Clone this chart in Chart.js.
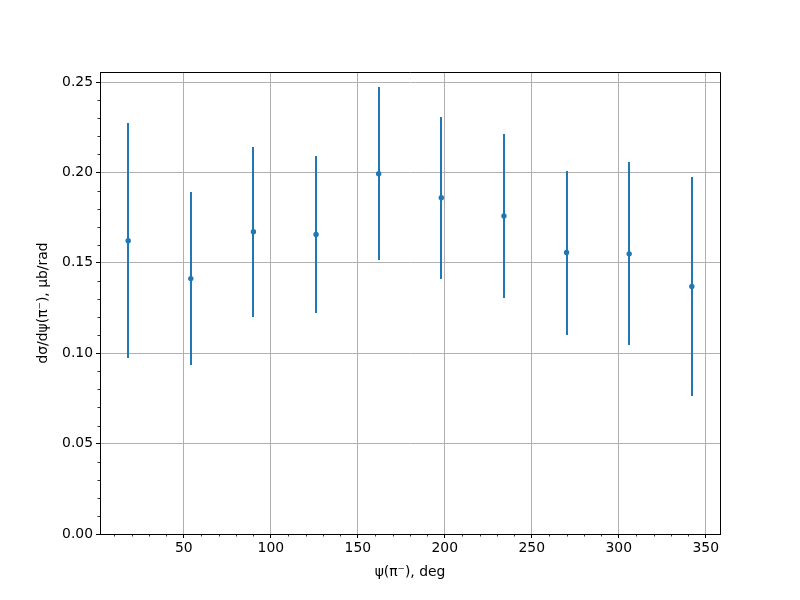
<!DOCTYPE html>
<html>
<head>
<meta charset="utf-8">
<script src="https://cdn.jsdelivr.net/npm/chart.js@4/dist/chart.umd.min.js"></script>
<style>
  html, body { margin: 0; padding: 0; background: #fff; }
  #wrap { width: 800px; height: 600px; }
</style>
</head>
<body>
<div id="wrap"><canvas id="chart" width="800" height="600"></canvas></div>
<script>
// angle psi(pi-) in degrees
const psiDeg = [18, 54, 90, 126, 162, 198, 234, 270, 306, 342];
// d sigma / d psi, ub/rad
const xsec = [0.1622, 0.1413, 0.1672, 0.1657, 0.1993, 0.186, 0.176, 0.1557, 0.155, 0.1369];
// symmetric errors
const xsecErr = [0.065, 0.0478, 0.047, 0.0435, 0.0478, 0.0448, 0.0453, 0.0454, 0.0506, 0.0605];

const xTicks = [50, 100, 150, 200, 250, 300, 350];
const yTicks = [0, 0.05, 0.1, 0.15, 0.2, 0.25];

const blue = "#1f77b4";
const font = { family: "'DejaVu Sans', sans-serif", size: 13.9 };

// vertical error bars, drawn below the markers
const errorBars = {
  id: "errorBars",
  beforeDatasetsDraw(chart) {
    const { ctx, scales } = chart;
    ctx.save();
    ctx.strokeStyle = blue;
    ctx.lineWidth = 2;
    psiDeg.forEach((x, i) => {
      const px = Math.round(scales.x.getPixelForValue(x));
      ctx.beginPath();
      ctx.moveTo(px, Math.round(scales.y.getPixelForValue(xsec[i] - xsecErr[i])));
      ctx.lineTo(px, Math.round(scales.y.getPixelForValue(xsec[i] + xsecErr[i])));
      ctx.stroke();
    });
    ctx.restore();
  },
};

// top/right spines and minor ticks
const frame = {
  id: "frame",
  afterDraw(chart) {
    const { ctx, chartArea: a, scales } = chart;
    ctx.save();
    ctx.strokeStyle = "#000";
    ctx.lineWidth = 1;
    ctx.beginPath();
    ctx.moveTo(Math.round(a.left), Math.round(a.top) + 0.5);
    ctx.lineTo(Math.round(a.right) + 0.5, Math.round(a.top) + 0.5);
    ctx.lineTo(Math.round(a.right) + 0.5, Math.round(a.bottom));
    ctx.stroke();

    ctx.lineWidth = 0.8;
    ctx.beginPath();
    for (let v = 10; v < 360; v += 10) {
      if (v % 50 === 0) continue;
      const px = Math.round(scales.x.getPixelForValue(v)) + 0.5;
      ctx.moveTo(px, a.bottom);
      ctx.lineTo(px, a.bottom + 2.5);
    }
    for (let k = 1; k <= 25; k++) {
      if (k % 5 === 0) continue;
      const py = Math.round(scales.y.getPixelForValue(k / 100)) + 0.5;
      ctx.moveTo(a.left, py);
      ctx.lineTo(a.left - 2.5, py);
    }
    ctx.stroke();
    ctx.restore();
  },
};

new Chart(document.getElementById("chart"), {
  type: "scatter",
  data: {
    datasets: [
      {
        data: psiDeg.map((x, i) => ({ x: x, y: xsec[i] })),
        backgroundColor: blue,
        borderColor: blue,
        borderWidth: 0,
        pointRadius: 2.7,
        pointHoverRadius: 2.7,
      },
    ],
  },
  options: {
    responsive: false,
    animation: false,
    devicePixelRatio: 1,
    layout: { padding: { top: 72, right: 80, bottom: 0, left: 0 } },
    plugins: {
      legend: { display: false },
      tooltip: { enabled: false },
    },
    scales: {
      x: {
        type: "linear",
        min: 1.8,
        max: 358.2,
        afterBuildTicks: (s) => { s.ticks = xTicks.map((v) => ({ value: v })); },
        afterFit: (s) => { s.height = 66; },
        grid: { color: "#b0b0b0", lineWidth: 1, tickColor: "#000", tickLength: 4, tickWidth: 1 },
        border: { display: true, color: "#000", width: 1 },
        ticks: { color: "#000", font: font, padding: 2, maxRotation: 0, autoSkip: false },
        title: { display: true, text: "ψ(π⁻), deg", color: "#000", font: font, padding: { top: 0, bottom: 19 } },
      },
      y: {
        type: "linear",
        min: 0,
        max: 0.2556,
        afterBuildTicks: (s) => { s.ticks = yTicks.map((v) => ({ value: v })); },
        afterFit: (s) => { s.width = 100; },
        grid: { color: "#b0b0b0", lineWidth: 1, tickColor: "#000", tickLength: 4, tickWidth: 1 },
        border: { display: true, color: "#000", width: 1 },
        ticks: { color: "#000", font: font, padding: 3, callback: (v) => v.toFixed(2) },
        title: { display: true, text: "dσ/dψ(π⁻), μb/rad", color: "#000", font: font, padding: { top: 35, bottom: 0 } },
      },
    },
  },
  plugins: [errorBars, frame],
});
</script>
</body>
</html>
